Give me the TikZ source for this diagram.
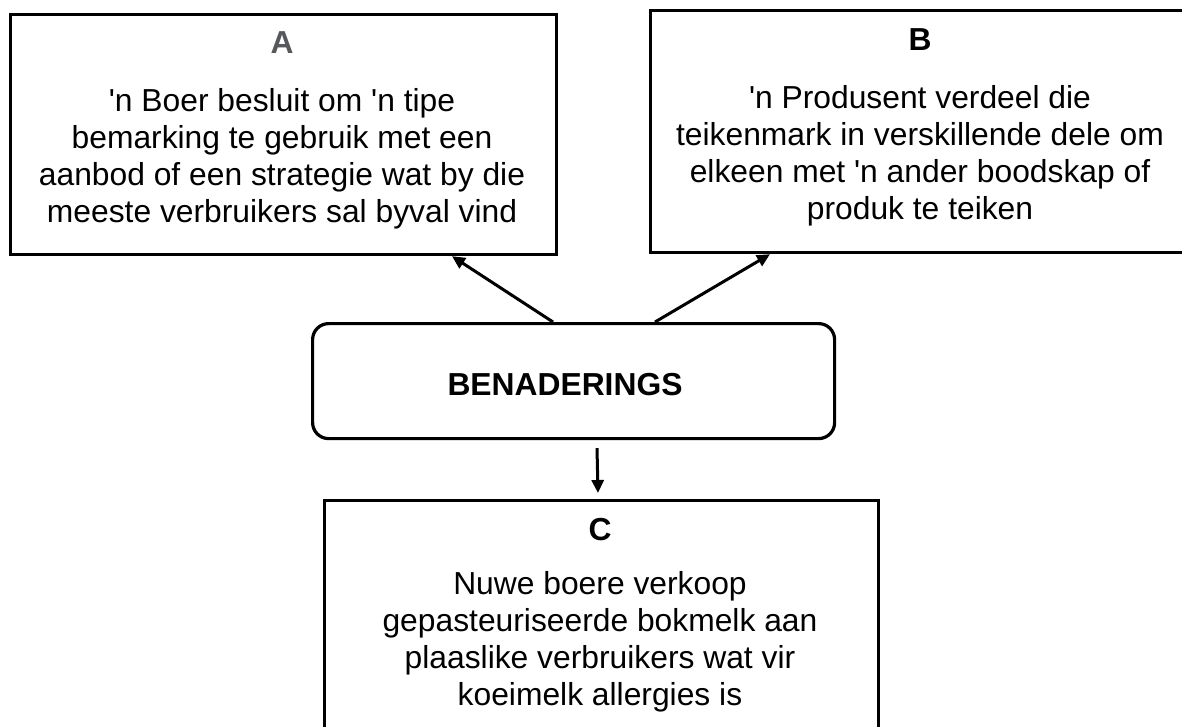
\documentclass[tikz,border=0pt]{standalone}
\usepackage{fontspec}
\setmainfont{Liberation Sans}
\usetikzlibrary{arrows.meta,calc}
\definecolor{titlegrey}{RGB}{85,89,94}
\newcommand{\sq}{\textquotesingle}
\begin{document}
\begin{tikzpicture}[x=1pt,y=-1pt,
  box/.style={draw,line width=3.2pt,inner sep=0pt,anchor=north west},
  body/.style={font=\fontsize{31.8}{37}\selectfont,inner sep=0pt,anchor=base},
  title/.style={font=\fontsize{31.8}{37}\selectfont\bfseries,inner sep=0pt,anchor=base},
  conn/.style={line width=3pt,-{Triangle[length=13pt,width=12pt]}}]
\useasboundingbox (0,0) rectangle (1182,726);
\clip (0,0) rectangle (1182,726);
% boxes
\node[box,minimum width=546pt,minimum height=240.5pt] (boxA) at (9,12.5) {};
\node[box,minimum width=600pt,minimum height=242pt] (boxB) at (649,9) {};
\node[box,minimum width=554pt,minimum height=300pt] (boxC) at (323,499) {};
\node[box,rounded corners=16pt,minimum width=522pt,minimum height=115pt] (mid) at (311,322) {};
% box A text
\node[title,text=titlegrey] (tA) at (282,53) {A};
\node[body] (a1) at (282,111) {\sq n Boer besluit om \sq n tipe};
\node[body] (a2) at (282,148) {bemarking te gebruik met een};
\node[body] (a3) at (282,185) {aanbod of een strategie wat by die};
\node[body] (a4) at (282,222) {meeste verbruikers sal byval vind};
% box B text
\node[title] (tB) at (920,50) {B};
\node[body] (b1) at (920,108) {\sq n Produsent verdeel die};
\node[body] (b2) at (920,145) {teikenmark in verskillende dele om};
\node[body] (b3) at (920,182) {elkeen met \sq n ander boodskap of};
\node[body] (b4) at (920,219) {produk te teiken};
% centre
\node[title] (tM) at (565,395) {BENADERINGS};
% box C text
\node[title] (tC) at (600,540) {C};
\node[body] (c1) at (600,594) {Nuwe boere verkoop};
\node[body] (c2) at (600,631) {gepasteuriseerde bokmelk aan};
\node[body] (c3) at (600,668) {plaaslike verbruikers wat vir};
\node[body] (c4) at (600,705) {koeimelk allergies is};
% connectors
\draw[conn] ($(mid.north west)+(242,0)$) -- ($(boxA.south west)+(443,0)$);
\draw[conn] ($(mid.north west)+(344,0)$) -- ($(boxB.south west)+(121,0)$);
\draw[conn] ($(mid.south west)+(286,8)$) -- ($(boxC.north west)+(275,-6)$);
\end{tikzpicture}
\end{document}
